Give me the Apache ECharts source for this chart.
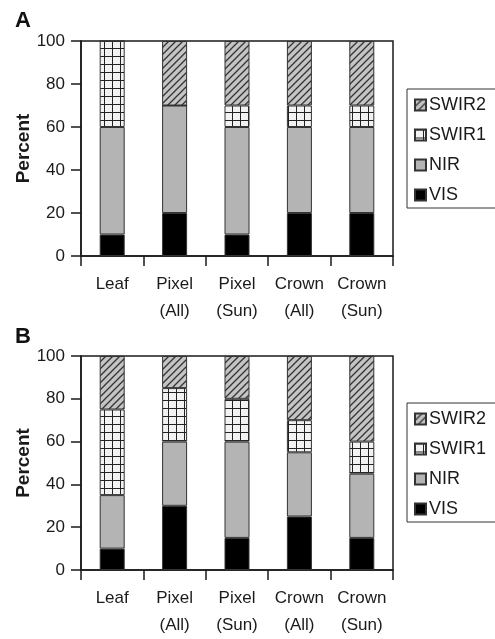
<!DOCTYPE html>
<html>
<head>
<meta charset="utf-8">
<script src="https://cdn.jsdelivr.net/npm/echarts@6/dist/echarts.min.js"></script>
<style>
html, body { margin: 0; padding: 0; background: #fff; }
#chart { width: 495px; height: 639px; }
</style>
</head>
<body>
<div id="chart"></div>
<script>
var categories = ['Leaf', 'Pixel\n(All)', 'Pixel\n(Sun)', 'Crown\n(All)', 'Crown\n(Sun)'];
var bands = ['VIS', 'NIR', 'SWIR1', 'SWIR2'];
var yTicks = [0, 20, 40, 60, 80, 100];

// panel A
var visA   = [10, 20, 10, 20, 20];
var nirA   = [50, 50, 50, 40, 40];
var swir1A = [40, 0, 10, 10, 10];
var swir2A = [0, 30, 30, 30, 30];

// panel B
var visB   = [10, 30, 15, 25, 15];
var nirB   = [25, 30, 45, 30, 30];
var swir1B = [40, 25, 20, 15, 15];
var swir2B = [25, 15, 20, 30, 40];

function makeGrid() {
    var c = document.createElement('canvas');
    c.width = 8; c.height = 8;
    var g = c.getContext('2d');
    g.fillStyle = '#f2f2f2';
    g.fillRect(0, 0, 8, 8);
    g.fillStyle = '#222';
    g.fillRect(0, 0, 8, 1);
    g.fillRect(0, 0, 1, 8);
    return c;
}
function makeHatch() {
    var c = document.createElement('canvas');
    c.width = 7; c.height = 7;
    var g = c.getContext('2d');
    g.fillStyle = '#c4c4c4';
    g.fillRect(0, 0, 7, 7);
    g.strokeStyle = '#333';
    g.lineWidth = 1.3;
    g.beginPath();
    g.moveTo(-1, 8); g.lineTo(8, -1);
    g.moveTo(-1, 1); g.lineTo(1, -1);
    g.moveTo(6, 8); g.lineTo(8, 6);
    g.stroke();
    return c;
}

var fills = {
    VIS: '#000',
    NIR: '#b4b4b4',
    SWIR1: { image: makeGrid(), repeat: 'repeat' },
    SWIR2: { image: makeHatch(), repeat: 'repeat' }
};

var font = 'Liberation Sans, Arial, sans-serif';
var dark = '#1a1a1a';

function xAxisFor(idx) {
    return {
        type: 'category',
        gridIndex: idx,
        data: categories,
        axisLine: { lineStyle: { color: dark, width: 1.5 } },
        axisTick: { show: true, interval: 0, length: 10, lineStyle: { color: dark, width: 1.5 } },
        axisLabel: { interval: 0, color: dark, fontSize: 17, fontFamily: font, margin: 15, lineHeight: 27 }
    };
}
function yAxisFor(idx) {
    return {
        type: 'value',
        gridIndex: idx,
        min: 0, max: 100, interval: 20,
        name: 'Percent',
        nameLocation: 'middle',
        nameGap: 48,
        nameMoveOverlap: false,
        nameTextStyle: { color: dark, fontSize: 19, fontWeight: 'bold', fontFamily: font },
        splitLine: { show: false },
        axisLine: { show: true, lineStyle: { color: dark, width: 1.5 } },
        axisTick: { show: true, length: 10, lineStyle: { color: dark, width: 1.5 } },
        axisLabel: {
            color: dark, fontSize: 17, fontFamily: font, margin: 16,
            formatter: function (v) { return yTicks.indexOf(v) >= 0 ? String(v) : ''; }
        }
    };
}

var panels = [
    { VIS: visA, NIR: nirA, SWIR1: swir1A, SWIR2: swir2A },
    { VIS: visB, NIR: nirB, SWIR1: swir1B, SWIR2: swir2B }
];

var series = [];
panels.forEach(function (p, i) {
    bands.forEach(function (b) {
        series.push({
            name: b,
            type: 'bar',
            xAxisIndex: i,
            yAxisIndex: i,
            stack: 'p' + i,
            barWidth: 25,
            data: p[b],
            itemStyle: { color: fills[b], borderColor: '#333', borderWidth: 1 },
            emphasis: { disabled: true }
        });
    });
});

function legendFor(top) {
    return {
        orient: 'vertical',
        left: 407,
        top: top,
        data: ['SWIR2', 'SWIR1', 'NIR', 'VIS'],
        icon: 'rect',
        itemWidth: 11,
        itemHeight: 11,
        itemGap: 12,
        padding: [7, 40, 4, 7],
        borderColor: '#333',
        borderWidth: 1,
        selectedMode: false,
        textStyle: { color: dark, fontSize: 18, fontFamily: font, padding: [0, 0, 0, -2] }
    };
}

var myChart = echarts.init(document.getElementById('chart'), null, { renderer: 'canvas' });
var option = {
    animation: false,
    backgroundColor: '#fff',
    title: [
        { text: 'A', left: 10, top: 5, textStyle: { fontSize: 22, fontWeight: 'bold', color: '#111', fontFamily: font } },
        { text: 'B', left: 10, top: 321, textStyle: { fontSize: 22, fontWeight: 'bold', color: '#111', fontFamily: font } }
    ],
    legend: [legendFor(89), legendFor(403)],
    grid: [
        { left: 81, top: 41, width: 312, height: 215, show: true, borderColor: dark, borderWidth: 1.5, backgroundColor: 'transparent' },
        { left: 81, top: 356, width: 312, height: 215, show: true, borderColor: dark, borderWidth: 1.5, backgroundColor: 'transparent' }
    ],
    xAxis: [xAxisFor(0), xAxisFor(1)],
    yAxis: [yAxisFor(0), yAxisFor(1)],
    series: series
};
myChart.setOption(option);
</script>
</body>
</html>
